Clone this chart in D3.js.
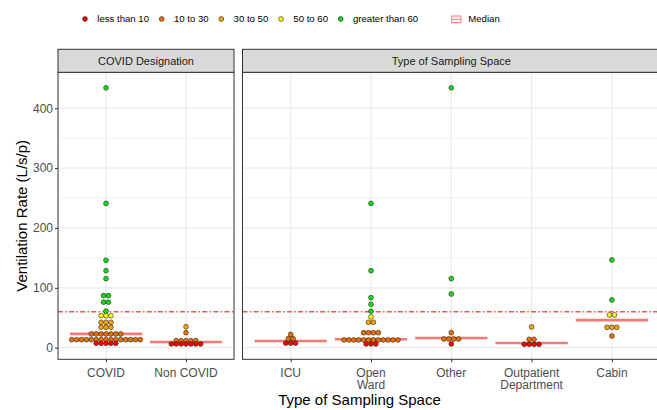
<!DOCTYPE html>
<html lang="en">
<head>
<meta charset="UTF-8">
<title>Ventilation Rate by Type of Sampling Space</title>
<script src="https://d3js.org/d3.v7.min.js"></script>
<style>
    body {
        margin: 0;
        background-color: #fff;
    }

    svg {
        display: block;
        font-family: "Liberation Sans", Arial, sans-serif;
    }
</style>
</head>
<body>

<svg width="657" height="410"></svg>

<script>
    // facet 1: COVID designation
    const designations = ["COVID", "Non COVID"];
    const covidValues = [434, 241, 146, 128.6, 115.3, 87, 87, 76, 76, 61,
        53.5, 53.5, 53.5, 42.4, 42.4, 42.4, 34.1, 34.1, 34.1,
        22.9, 22.9, 22.9, 22.9, 22.9, 22.9, 22.9,
        13.4, 13.4, 13.4, 13.4, 13.4, 13.4, 13.4, 13.4, 13.4, 13.4, 13.4, 13.4, 13.4, 13.4, 13.4,
        7.3, 7.3, 7.3, 7.3, 7.3];
    const nonCovidValues = [35, 25, 11.7, 11.7, 11.7, 11.7, 11.7,
        6.2, 6.2, 6.2, 6.2, 6.2, 6.2, 6.2];
    const designationMedians = [23, 9.5];

    // facet 2: type of sampling space
    const spaces = ["ICU", "Open\nWard", "Other", "Outpatient\nDepartment", "Cabin"];
    const icuValues = [22, 15, 15, 7.5, 7.5, 7.5];
    const openWardValues = [241, 128.6, 83.5, 72.5, 61, 51.5, 42.4, 42.4, 25, 25, 25, 25,
        12.9, 12.9, 12.9, 12.9, 12.9, 12.9, 12.9, 12.9, 12.9, 12.9, 12.9, 12.9,
        6.2, 6.2, 6.2];
    const otherValues = [434, 115.3, 89.7, 25, 14.5, 14.5, 14.5, 14.5, 6.2];
    const outpatientValues = [34.6, 14, 14, 5.6, 5.6, 5.6, 5.6];
    const cabinValues = [146.5, 79.7, 54.7, 54.7, 34, 34, 34, 19.5];
    const spaceMedians = [11.2, 14, 16.2, 7.8, 46];

    // legend / colour bins
    const binLabels = ["less than 10", "10 to 30", "30 to 50", "50 to 60", "greater than 60"];
    const binBreaks = [10, 30, 50, 60];
    const binColors = ["#FF0000", "#F07000", "#FFA500", "#FFFF00", "#10E010"];

    const yTicks = [0, 100, 200, 300, 400];
    const yMinor = [50, 150, 250, 350, 450];
    const threshold = 60;

    const svg = d3.select("svg");
    const color = d3.scaleThreshold().domain(binBreaks).range(binColors);

    const panelTop = 72.3, panelBottom = 359.3;
    const stripTop = 49.3;
    const dotR = 2.4, dotStep = 4.9;

    const y = d3.scaleLinear()
        .domain([-19.4, 460])
        .range([panelBottom, panelTop]);

    const facets = [
        {title: "COVID Designation", cats: designations,
         values: [covidValues, nonCovidValues], medians: designationMedians,
         x0: 58, x1: 234},
        {title: "Type of Sampling Space", cats: spaces,
         values: [icuValues, openWardValues, otherValues, outpatientValues, cabinValues],
         medians: spaceMedians, x0: 242.5, x1: 660.1}
    ];

    facets.forEach((f, fi) => {
        const x = d3.scalePoint()
            .domain(f.cats)
            .range([f.x0, f.x1])
            .padding(0.6);
        const step = x.step();
        const g = svg.append("g");

        g.append("rect")
            .attr("x", f.x0).attr("y", panelTop)
            .attr("width", f.x1 - f.x0).attr("height", panelBottom - panelTop)
            .attr("fill", "#fff");

        // grid
        g.selectAll(".minor").data(yMinor).join("line")
            .attr("x1", f.x0).attr("x2", f.x1)
            .attr("y1", d => y(d)).attr("y2", d => y(d))
            .attr("stroke", "#EBEBEB").attr("stroke-width", 0.6);
        g.selectAll(".major").data(yTicks).join("line")
            .attr("x1", f.x0).attr("x2", f.x1)
            .attr("y1", d => y(d)).attr("y2", d => y(d))
            .attr("stroke", "#EBEBEB").attr("stroke-width", 1.2);
        g.selectAll(".vgrid").data(f.cats).join("line")
            .attr("x1", d => x(d)).attr("x2", d => x(d))
            .attr("y1", panelTop).attr("y2", panelBottom)
            .attr("stroke", "#EBEBEB").attr("stroke-width", 1.2);

        // reference line at 60
        g.append("line")
            .attr("x1", f.x0).attr("x2", f.x1)
            .attr("y1", y(threshold)).attr("y2", y(threshold))
            .attr("stroke", "#F2554C").attr("stroke-width", 1.6)
            .attr("stroke-dasharray", "5,2.3,1.5,2.3");

        // medians
        g.selectAll(".median").data(f.medians).join("line")
            .attr("x1", (d, i) => x(f.cats[i]) - 0.45 * step)
            .attr("x2", (d, i) => x(f.cats[i]) + 0.45 * step)
            .attr("y1", d => y(d)).attr("y2", d => y(d))
            .attr("stroke", "#F47A74").attr("stroke-width", 2.6);

        // dots, stacked sideways per value
        f.cats.forEach((c, ci) => {
            const stacks = Array.from(d3.group(f.values[ci], v => v))
                .sort((a, b) => b[0] - a[0]);
            stacks.forEach(([v, arr]) => {
                const n = arr.length;
                g.selectAll(null).data(arr).join("circle")
                    .attr("cx", (d, k) => x(c) + (k - (n - 1) / 2) * dotStep)
                    .attr("cy", y(v))
                    .attr("r", dotR)
                    .attr("fill", color(v))
                    .attr("stroke", "#222")
                    .attr("stroke-width", 0.6);
            });
        });

        // panel border
        g.append("rect")
            .attr("x", f.x0).attr("y", panelTop)
            .attr("width", f.x1 - f.x0).attr("height", panelBottom - panelTop)
            .attr("fill", "none").attr("stroke", "#333").attr("stroke-width", 1);

        // strip
        g.append("rect")
            .attr("x", f.x0).attr("y", stripTop)
            .attr("width", f.x1 - f.x0).attr("height", panelTop - stripTop)
            .attr("fill", "#D9D9D9").attr("stroke", "#333").attr("stroke-width", 1);
        g.append("text")
            .attr("x", (f.x0 + f.x1) / 2)
            .attr("y", (stripTop + panelTop) / 2)
            .attr("dy", "0.35em")
            .attr("text-anchor", "middle")
            .attr("font-size", 11)
            .attr("fill", "#1A1A1A")
            .text(f.title);

        // x axis
        const xAxis = g.append("g")
            .attr("transform", `translate(0,${panelBottom})`)
            .call(d3.axisBottom(x).tickSize(3).tickFormat(""));
        xAxis.select(".domain").remove();
        xAxis.selectAll("line").attr("stroke", "#333");
        f.cats.forEach(c => {
            const t = g.append("text")
                .attr("text-anchor", "middle")
                .attr("font-size", 12)
                .attr("fill", "#4D4D4D");
            c.split("\n").forEach((line, li) => {
                t.append("tspan")
                    .attr("x", x(c))
                    .attr("y", 376.5 + li * 12.6)
                    .text(line);
            });
        });

        // y axis on first panel only
        if (fi === 0) {
            const yAxis = g.append("g")
                .attr("transform", `translate(${f.x0},0)`)
                .call(d3.axisLeft(y).tickValues(yTicks).tickSize(3).tickPadding(2));
            yAxis.select(".domain").remove();
            yAxis.selectAll("line").attr("stroke", "#333");
            yAxis.selectAll("text")
                .attr("font-size", 12)
                .attr("fill", "#4D4D4D")
                .attr("font-family", "Liberation Sans, Arial, sans-serif");
        }
    });

    // axis titles
    svg.append("text")
        .attr("x", 359.5).attr("y", 405)
        .attr("text-anchor", "middle")
        .attr("font-size", 15)
        .text("Type of Sampling Space");

    svg.append("text")
        .attr("transform", `translate(26.5,${(panelTop + panelBottom) / 2}) rotate(-90)`)
        .attr("text-anchor", "middle")
        .attr("font-size", 15)
        .text("Ventilation Rate (L/s/p)");

    // legend
    const legendX = [85, 161.7, 221.3, 281, 340.7];
    const legendY = 19;
    const legend = svg.append("g");
    binLabels.forEach((lab, i) => {
        legend.append("circle")
            .attr("cx", legendX[i]).attr("cy", legendY)
            .attr("r", 2.4)
            .attr("fill", binColors[i])
            .attr("stroke", "#222").attr("stroke-width", 0.6);
        legend.append("text")
            .attr("x", legendX[i] + 12.3).attr("y", legendY)
            .attr("dy", "0.35em")
            .attr("font-size", 9.6)
            .text(lab);
    });
    legend.append("rect")
        .attr("x", 451.7).attr("y", 16)
        .attr("width", 9.3).attr("height", 6.7)
        .attr("fill", "none").attr("stroke", "#F47A74").attr("stroke-width", 1);
    legend.append("line")
        .attr("x1", 451.7).attr("x2", 461)
        .attr("y1", 19.35).attr("y2", 19.35)
        .attr("stroke", "#F47A74").attr("stroke-width", 1);
    legend.append("text")
        .attr("x", 468.3).attr("y", legendY)
        .attr("dy", "0.35em")
        .attr("font-size", 9.6)
        .text("Median");
</script>

</body>
</html>
